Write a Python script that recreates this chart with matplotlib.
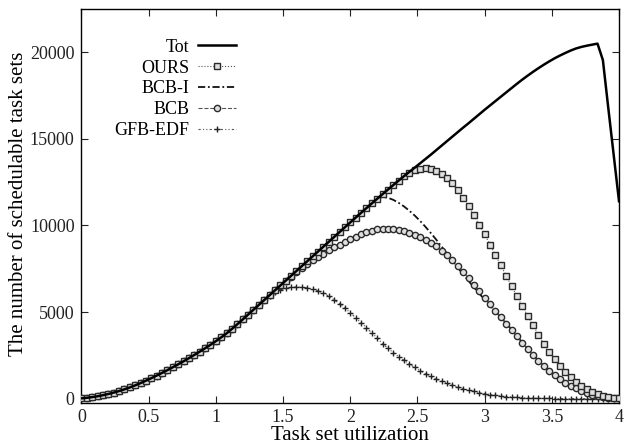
import matplotlib
matplotlib.use("Agg")
import matplotlib.pyplot as plt
import numpy as np

# utilization grid: 0.00 .. 4.00 in steps of 0.04
util = np.round(np.arange(101) * 0.04, 2)

tot = [20, 50, 90, 140, 200, 270, 350, 440, 540, 650,
       770, 900, 1040, 1185, 1335, 1490, 1650, 1815, 1985, 2160,
       2340, 2525, 2715, 2910, 3110, 3320, 3540, 3770, 4030, 4300,
       4575, 4855, 5135, 5415, 5695, 5975, 6255, 6535, 6815, 7095,
       7375, 7655, 7935, 8215, 8495, 8775, 9055, 9335, 9615, 9895,
       10175, 10450, 10725, 11000, 11270, 11540, 11805, 12070, 12330, 12590,
       12845, 13095, 13340, 13590, 13840, 14090, 14350, 14610, 14870, 15130,
       15390, 15650, 15900, 16160, 16420, 16680, 16930, 17180, 17430, 17680,
       17930, 18180, 18420, 18650, 18870, 19080, 19280, 19470, 19650, 19810,
       19960, 20100, 20220, 20310, 20380, 20440, 20500, 19550, 16800, 14100,
       11400]

# tails after each curve leaves the Tot curve
ours_tail = [12830, 13040, 13190, 13280, 13300, 13240, 13120, 12990, 12760, 12440,
             12030, 11580, 11100, 10580, 10040, 9480, 8900, 8310, 7710, 7100,
             6500, 5910, 5340, 4790, 4250, 3700, 3180, 2720, 2290, 1900,
             1550, 1240, 970, 740, 550, 390, 260, 160, 90, 40,
             15]
bcbi_tail = [11280, 11530, 11650, 11600, 11480, 11310,
             11100, 10850, 10570, 10260, 9920, 9560, 9180, 8780, 8370, 7960,
             7560, 7180, 6800, 6430, 6070, 5720, 5380, 5040, 4710, 4360,
             4000, 3630, 3240, 2880, 2530, 2210, 1910, 1630, 1380, 1150,
             940, 760, 600, 460, 340, 240, 160, 95, 55, 25,
             10]
bcb_tail = [6520, 6790, 7050,
            7300, 7540, 7770, 7990, 8190, 8380, 8560, 8730, 8900, 9060,
            9210, 9350, 9480, 9600, 9700, 9780, 9820, 9820, 9790, 9740,
            9670, 9580, 9470, 9340, 9180, 9000, 8790, 8550, 8280, 7990,
            7660, 7310, 6950, 6580, 6200, 5820, 5440, 5060, 4690, 4330,
            3960, 3600, 3220, 2860, 2520, 2200, 1900, 1620, 1370, 1140,
            930, 750, 590, 450, 330, 230, 150, 90, 50, 20,
            10]
gfb_tail = [5950, 6150, 6290, 6380, 6430,
            6450, 6440, 6400, 6330, 6230, 6100, 5920, 5710, 5480, 5230,
            4960, 4680, 4390, 4100, 3800, 3510, 3180, 2910, 2660, 2430,
            2210, 2000, 1800, 1610, 1440, 1280, 1130, 1000, 880, 770,
            670, 580, 500, 420, 350, 290, 240, 195, 155, 120,
            90, 70, 55, 40, 30, 22, 16, 12, 8, 6,
            4, 3, 2, 1, 1, 0, 0, 0, 0, 0,
            0]

ours = tot[:101 - len(ours_tail)] + ours_tail
bcb_i = tot[:101 - len(bcbi_tail)] + bcbi_tail
bcb = tot[:101 - len(bcb_tail)] + bcb_tail
gfb = tot[:101 - len(gfb_tail)] + gfb_tail

plt.rcParams["font.family"] = ["Liberation Serif", "DejaVu Serif"]

fig = plt.figure(figsize=(6.24, 4.45), dpi=100)
ax = fig.add_axes([0.1306, 0.0944, 0.8614, 0.8854])

gray = "#555555"
edge = "#2a2a2a"
ax.plot(util, tot, color="black", lw=1.8, label="Tot", zorder=5)
ax.plot(util, ours, color=gray, ls=":", lw=0.8, marker="s", ms=4.5,
        mfc="#e0e0e0", mec=edge, mew=1.0, label="OURS", zorder=4)
ax.plot(util, bcb_i, color="#111111", ls=(0, (4, 1.5, 1, 1.5)), lw=1.3,
        label="BCB-I", zorder=3)
ax.plot(util, bcb, color=gray, ls="--", lw=0.8, marker="o", ms=4.5,
        mfc="#e0e0e0", mec=edge, mew=1.0, label="BCB", zorder=3)
ax.plot(util, gfb, color=gray, ls=(0, (2, 2, 1, 2, 1, 2)), lw=0.8,
        marker="+", ms=5, mec="#222222", mew=1.0, label="GFB-EDF", zorder=2)

ax.set_xlim(0, 4)
ax.set_ylim(-250, 22500)
ax.set_xticks([0, 0.5, 1, 1.5, 2, 2.5, 3, 3.5, 4])
ax.set_xticklabels(["0", "0.5", "1", "1.5", "2", "2.5", "3", "3.5", "4"])
ax.set_yticks([0, 5000, 10000, 15000, 20000])
ax.tick_params(direction="in", top=True, right=True, length=5, width=0.8,
               labelsize=13, colors="#222222")
ax.tick_params(axis="x", pad=4)
ax.tick_params(axis="y", pad=5)
for s in ax.spines.values():
    s.set_linewidth(1.0)

ax.set_xlabel("Task set utilization", fontsize=15)
ax.set_ylabel("The number of schedulable task sets", fontsize=15)
ax.xaxis.set_label_coords(0.5, -0.058)
ax.yaxis.set_label_coords(-0.1, 0.505)

ax.legend(loc="upper right", bbox_to_anchor=(0.287, 0.925), frameon=False,
          markerfirst=False, fontsize=13, handlelength=2.1, handletextpad=0.45,
          labelspacing=0.22, borderpad=0, borderaxespad=0, numpoints=1)

fig.savefig("out.png", dpi=100)
